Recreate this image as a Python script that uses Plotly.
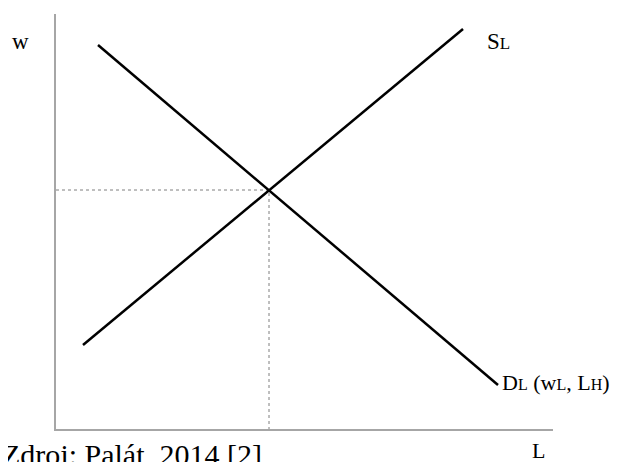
"""Labour market: supply and demand for labour (L) against wage (w)."""

import plotly.graph_objects as go

# Endpoints of the two curves, in chart units (origin at the axes corner)
DEMAND_X = [42, 442]
DEMAND_Y = [384, 44]
SUPPLY_X = [27, 407]
SUPPLY_Y = [84, 400]

# Equilibrium point (where the curves cross)
EQ_X = 213
EQ_Y = 239

X_MAX = 497
Y_MAX = 415

SERIF = "Liberation Serif, Times New Roman, serif"
AXIS_GRAY = "#a6a6a6"
DOT_GRAY = "#7f7f7f"

# page has an 8px body margin, so the figure is shrunk to fit the window
W, H = 611, 454
M = dict(l=48, r=66, t=6, b=33)
PLOT_W = W - M["l"] - M["r"]
PLOT_H = H - M["t"] - M["b"]


def paper_x(px):
    return (px - 8 - M["l"]) / PLOT_W


def paper_y(py):
    return 1 - (py - 8 - M["t"]) / PLOT_H


def small(s, size):
    return '<span style="font-size:%dpx">%s</span>' % (size, s)


fig = go.Figure()

# Dotted guide lines to the axes
fig.add_trace(go.Scatter(
    x=[0, EQ_X, EQ_X], y=[EQ_Y, EQ_Y, 0],
    mode="lines", line=dict(color=DOT_GRAY, width=1, dash="dot"),
    hoverinfo="skip",
))

# Demand and supply
fig.add_trace(go.Scatter(x=DEMAND_X, y=DEMAND_Y, mode="lines",
                         line=dict(color="black", width=2.5), name="D"))
fig.add_trace(go.Scatter(x=SUPPLY_X, y=SUPPLY_Y, mode="lines",
                         line=dict(color="black", width=2.5), name="S"))

labels = [
    (485, 42, "S" + small("L", 17), 23),
    (500, 382, "D" + small("L", 16) + " (w" + small("L", 16) + ", L" + small("H", 16) + ")", 22),
    (10, 42, "w", 23),
    (530, 450, "L", 22),
]
for x, y, text, size in labels:
    fig.add_annotation(x=paper_x(x), y=paper_y(y), xref="paper", yref="paper",
                       text=text, showarrow=False, xanchor="left", yanchor="middle",
                       font=dict(family=SERIF, size=size, color="black"))

# Source note, partly cut off at the bottom edge
fig.add_annotation(x=paper_x(0), y=paper_y(436), xref="paper", yref="paper",
                   text="Zdroj: Palát, 2014 [2]", showarrow=False,
                   xanchor="left", yanchor="top",
                   font=dict(family=SERIF, size=30, color="black"))

fig.update_layout(
    width=W, height=H,
    margin=M,
    paper_bgcolor="white", plot_bgcolor="white",
    showlegend=False,
    xaxis=dict(range=[0, X_MAX], showgrid=False, zeroline=False, showticklabels=False,
               ticks="", showline=True, linecolor=AXIS_GRAY, linewidth=1.5),
    yaxis=dict(range=[0, Y_MAX], showgrid=False, zeroline=False, showticklabels=False,
               ticks="", showline=True, linecolor=AXIS_GRAY, linewidth=1.5),
)

fig.write_html("out.html")
